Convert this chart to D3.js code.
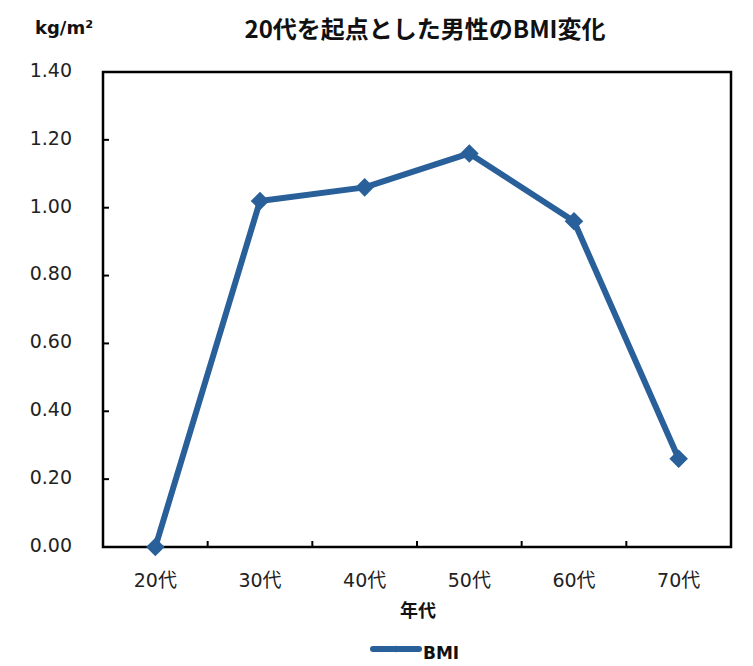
<!DOCTYPE html>
<html><head><meta charset="utf-8">
<script src="https://cdn.jsdelivr.net/npm/d3@7"></script>
<style>body{margin:0;background:#fff;} svg{display:block;}</style>
</head><body>
<script>
const categories = ["20代","30代","40代","50代","60代","70代"];
const bmiValues = [0, 1.02, 1.06, 1.16, 0.96, 0.26];
const yTicks = [0, 0.2, 0.4, 0.6, 0.8, 1.0, 1.2, 1.4];
const seriesName = "BMI";
const titleText = "20代を起点とした男性のBMI変化";
const unitText = "kg/m²";
const xTitle = "年代";

const W = 753, H = 666;
const m = {left: 103, right: 22, top: 72, bottom: 119};
const iw = W - m.left - m.right, ih = H - m.top - m.bottom;
const color = "#2a6099";
const tickFont = "'DejaVu Sans', 'Noto Sans CJK JP', sans-serif";
const boldFont = "'DejaVu Sans', 'Noto Sans CJK JP', sans-serif";

const svg = d3.select("body").append("svg").attr("width", W).attr("height", H);
svg.append("rect").attr("width", W).attr("height", H).attr("fill", "#fff");

const x = d3.scaleBand().domain(categories).range([0, iw]);
const y = d3.scaleLinear().domain([0, 1.4]).range([ih, 0]);

const g = svg.append("g").attr("transform", `translate(${m.left},${m.top})`);

// frame
g.append("rect").attr("width", iw).attr("height", ih).attr("fill", "none")
  .attr("stroke", "#000").attr("stroke-width", 2.5);

// y ticks (inward)
g.selectAll(".yt").data(yTicks).enter().append("line")
  .attr("x1", 0).attr("x2", 6).attr("y1", d => y(d)).attr("y2", d => y(d))
  .attr("stroke", "#000").attr("stroke-width", 2);
g.selectAll(".yl").data(yTicks).enter().append("text")
  .attr("x", -31).attr("y", d => y(d) - 2).attr("dy", "0.36em")
  .attr("text-anchor", "end").attr("font-family", tickFont).attr("font-size", 19)
  .attr("fill", "#222").text(d => d.toFixed(2));

// x ticks (inward, at category boundaries)
const bounds = categories.slice(1).map(c => x(c));
g.selectAll(".xt").data(bounds).enter().append("line")
  .attr("x1", d => d).attr("x2", d => d).attr("y1", ih).attr("y2", ih - 6)
  .attr("stroke", "#000").attr("stroke-width", 2);
g.selectAll(".xl").data(categories).enter().append("text")
  .attr("x", d => x(d) + x.bandwidth() / 2).attr("y", 587 - m.top)
  .attr("text-anchor", "middle").attr("font-family", tickFont).attr("font-size", 19)
  .attr("fill", "#222").text(d => d);

// line
const data = categories.map((c, i) => ({c, v: bmiValues[i]}));
const line = d3.line().x(d => x(d.c) + x.bandwidth() / 2).y(d => y(d.v));
g.append("path").datum(data).attr("d", line).attr("fill", "none")
  .attr("stroke", color).attr("stroke-width", 6).attr("stroke-linejoin", "round");
const diamond = d3.symbol().type(d3.symbolDiamond2).size(220);
g.selectAll(".pt").data(data).enter().append("path")
  .attr("d", diamond)
  .attr("transform", d => `translate(${x(d.c) + x.bandwidth() / 2},${y(d.v)})`)
  .attr("fill", color);

// titles
svg.append("text").attr("x", 425).attr("y", 38).attr("text-anchor", "middle")
  .attr("font-family", "'Noto Sans CJK JP', sans-serif").attr("font-weight", "bold")
  .attr("font-size", 24).attr("fill", "#111").text(titleText);
svg.append("text").attr("x", 35).attr("y", 34)
  .attr("font-family", boldFont).attr("font-weight", "bold")
  .attr("font-size", 18).attr("fill", "#111").text(unitText);
svg.append("text").attr("x", 418).attr("y", 617).attr("text-anchor", "middle")
  .attr("font-family", "'Noto Sans CJK JP', sans-serif").attr("font-weight", "bold")
  .attr("font-size", 18).attr("fill", "#111").text(xTitle);

// legend
const lg = svg.append("g").attr("transform", "translate(373,649)");
lg.append("line").attr("x1", 0).attr("x2", 46).attr("stroke", color)
  .attr("stroke-width", 6).attr("stroke-linecap", "round");
lg.append("path").attr("d", d3.symbol().type(d3.symbolDiamond2).size(30)())
  .attr("transform", "translate(23,0)").attr("fill", color);
lg.append("text").attr("x", 50).attr("y", 4).attr("dy", "0.36em")
  .attr("font-family", boldFont).attr("font-weight", "bold")
  .attr("font-size", 17).attr("fill", "#111").text(seriesName);
</script>
</body></html>
